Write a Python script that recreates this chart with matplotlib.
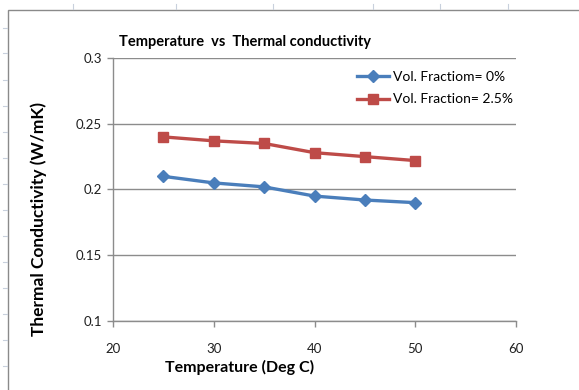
import matplotlib.pyplot as plt
from matplotlib.patches import Rectangle
from matplotlib.lines import Line2D

temps = [25, 30, 35, 40, 45, 50]
k_0 = [0.210, 0.205, 0.202, 0.195, 0.192, 0.190]
k_25 = [0.240, 0.237, 0.235, 0.228, 0.225, 0.222]
labels = ['Vol. Fractiom= 0%', 'Vol. Fraction= 2.5%']
xticks = [20, 30, 40, 50, 60]
yticks = [0.1, 0.15, 0.2, 0.25, 0.3]
ytick_labels = ['0.1', '0.15', '0.2', '0.25', '0.3']

plt.rcParams['font.family'] = ['Lato', 'DejaVu Sans']

W, H = 579, 390
fig = plt.figure(figsize=(W / 100, H / 100), dpi=100)

# spreadsheet background marks and chart border
for yy in [28, 53, 80, 106, 132, 158, 184, 210, 236, 262, 288, 314, 340, 366]:
    fig.add_artist(Line2D([3 / W, 7 / W], [1 - yy / H] * 2, color='#c8d0dc', lw=0.8))
for xx in [73, 176, 273, 373, 440, 508]:
    fig.add_artist(Line2D([xx / W] * 2, [1 - 4 / H, 1 - 9 / H], color='#c8d0dc', lw=0.8))
fig.add_artist(Rectangle((8 / W, -0.1), 1.2, 1 - 10 / H + 0.1, transform=fig.transFigure,
                         fill=False, edgecolor='#8a8a8a', lw=1.0))

ax = fig.add_axes([113 / W, 1 - 321 / H, (516 - 113) / W, (321 - 58) / H])

ax.plot(temps, k_0, color='#4a7ebb', lw=2.4, marker='D', ms=6.5, label=labels[0])
ax.plot(temps, k_25, color='#be4b48', lw=2.4, marker='s', ms=7, label=labels[1])

ax.set_xlim(20, 60)
ax.set_ylim(0.1, 0.3)
ax.set_xticks(xticks)
ax.set_yticks(yticks)
ax.set_yticklabels(ytick_labels)
ax.tick_params(axis='both', labelsize=9.5, colors='#8c8c8c', length=4, width=1, pad=4)
ax.tick_params(axis='x', pad=12)
for lab in ax.get_xticklabels() + ax.get_yticklabels():
    lab.set_color('#202020')
ax.grid(axis='y', color='#8c8c8c', lw=1)
ax.set_axisbelow(True)
for side in ['top', 'right']:
    ax.spines[side].set_visible(False)
for side in ['left', 'bottom']:
    ax.spines[side].set_color('#8c8c8c')
    ax.spines[side].set_linewidth(1)

fig.legend(*ax.get_legend_handles_labels(), loc='upper left',
           bbox_to_anchor=(357 / W, 1 - 71 / H), bbox_transform=fig.transFigure,
           frameon=False, fontsize=10, borderpad=0, borderaxespad=0,
           handlelength=2.3, handletextpad=0.3, labelspacing=0.75)

fig.text(245 / W, 1 - 42 / H, 'Temperature  vs  Thermal conductivity', ha='center', va='center',
         fontsize=10.5, fontweight='bold')
fig.text(240 / W, 1 - 367 / H, 'Temperature (Deg C)', ha='center', va='center',
         fontsize=11.5, fontweight='bold')
fig.text(39 / W, 1 - 219 / H, 'Thermal Conductivity (W/mK)', ha='center', va='center',
         rotation=90, fontsize=12.5, fontweight='bold')

fig.savefig('out.png', dpi=100)
